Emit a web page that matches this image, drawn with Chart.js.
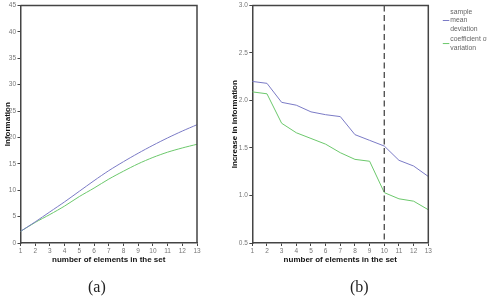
<!DOCTYPE html>
<html>
<head>
<meta charset="utf-8">
<script src="https://cdn.jsdelivr.net/npm/chart.js@4"></script>
<style>
  body { margin: 0; background: #fff; width: 487px; height: 299px; overflow: hidden; position: relative; }
  canvas { position: absolute; top: 0; }
  .cap { position: absolute; font-family: "Liberation Serif", "DejaVu Serif", serif; font-size: 16px; color: #222; }
</style>
</head>
<body>
<canvas id="chartA" width="240" height="299" style="left:0;width:240px;height:299px"></canvas>
<canvas id="chartB" width="259" height="299" style="left:228px;width:259px;height:299px"></canvas>
<div class="cap" style="left:88px;top:278px">(a)</div>
<div class="cap" style="left:350px;top:278px">(b)</div>
<script>
// x categories (number of elements in the set)
const setSizes = [1, 2, 3, 4, 5, 6, 7, 8, 9, 10, 11, 12, 13];

// (a) information
const infoMeanDev = [2.2, 4.0, 5.9, 7.8, 9.8, 11.8, 13.7, 15.4, 17.0, 18.5, 19.9, 21.2, 22.4];
const infoCoefVar = [2.2, 3.9, 5.4, 7.0, 8.8, 10.4, 12.1, 13.6, 15.0, 16.2, 17.2, 18.0, 18.7];

// (b) increase in information
const incMeanDev = [2.20, 2.18, 1.98, 1.95, 1.88, 1.85, 1.83, 1.64, 1.58, 1.52, 1.37, 1.31, 1.20];
const incCoefVar = [2.09, 2.07, 1.76, 1.66, 1.60, 1.54, 1.45, 1.38, 1.36, 1.03, 0.965, 0.94, 0.85];

const markerX = 10;

const blue = '#7b7bc6';
const green = '#6cc86c';
const axisCol = '#444';
const sans = '"Liberation Sans", Arial, sans-serif';

const pts = ys => ys.map((y, i) => ({ x: setSizes[i], y: y }));

// top + right border of the plot box, dashed marker, side legend
const boxPlugin = {
  id: 'box',
  afterDraw(chart, args, opts) {
    const { ctx, chartArea: a } = chart;
    ctx.save();
    ctx.strokeStyle = axisCol;
    ctx.lineWidth = 1.5;
    ctx.beginPath();
    ctx.moveTo(a.left, a.top);
    ctx.lineTo(a.right, a.top);
    ctx.lineTo(a.right, a.bottom);
    ctx.stroke();

    if (opts.marker) {
      const x = chart.scales.x.getPixelForValue(opts.marker);
      ctx.strokeStyle = '#555';
      ctx.lineWidth = 1.4;
      ctx.setLineDash([6, 3.5]);
      ctx.beginPath();
      ctx.moveTo(x, a.top);
      ctx.lineTo(x, a.bottom);
      ctx.stroke();
      ctx.setLineDash([]);
    }

    if (opts.legend) {
      ctx.font = '6.8px ' + sans;
      ctx.fillStyle = '#666';
      ctx.textBaseline = 'middle';
      let y = 12;
      chart.data.datasets.forEach(ds => {
        const lines = ds.label;
        const mid = y + (lines.length - 1) * 8.5 / 2;
        ctx.strokeStyle = ds.borderColor;
        ctx.lineWidth = 1;
        ctx.beginPath();
        ctx.moveTo(a.right + 14.5, mid);
        ctx.lineTo(a.right + 21, mid);
        ctx.stroke();
        lines.forEach((t, k) => ctx.fillText(t, a.right + 22, y + k * 8.5));
        y += lines.length * 8.5 + 1.8;
      });
    }
    ctx.restore();
  }
};

function makeChart(id, series, yOpts, yTitle, yWidth, yTitlePad, pad, extra) {
  return new Chart(document.getElementById(id), {
    type: 'line',
    data: {
      datasets: series.map(s => ({
        label: s.label,
        data: pts(s.data),
        borderColor: s.color,
        borderWidth: 1,
        pointRadius: 0,
        tension: s.tension || 0,
        fill: false
      }))
    },
    options: {
      responsive: false,
      animation: false,
      layout: { padding: pad },
      plugins: {
        legend: { display: false },
        tooltip: { enabled: false },
        box: extra
      },
      scales: {
        x: {
          type: 'linear',
          min: 1, max: 13,
          afterFit: s => { s.height = 27; },
          ticks: { stepSize: 1, padding: 1.5, color: '#777', font: { size: 6.5, family: sans } },
          grid: { drawOnChartArea: false, drawTicks: true, tickLength: 3, tickColor: axisCol },
          border: { display: true, color: axisCol, width: 1.5 },
          title: { display: true, text: 'number of elements in the set', color: '#111',
                   padding: { top: 0, bottom: 5 },
                   font: { size: 8, weight: 'bold', family: sans } }
        },
        y: Object.assign({
          afterFit: s => { s.width = yWidth; },
          grid: { drawOnChartArea: false, drawTicks: true, tickLength: 3, tickColor: axisCol },
          border: { display: true, color: axisCol, width: 1.5 },
          title: { display: true, text: yTitle, color: '#111',
                   padding: { top: yTitlePad, bottom: 0 },
                   font: { size: 8, weight: 'bold', family: sans } }
        }, yOpts)
      }
    },
    plugins: [boxPlugin]
  });
}

makeChart('chartA',
  [{ label: 'sample mean deviation', data: infoMeanDev, color: blue, tension: 0.3 },
   { label: 'coefficient of variation', data: infoCoefVar, color: green, tension: 0.3 }],
  { min: 0, max: 45, ticks: { stepSize: 5, padding: 1.5, color: '#777', font: { size: 6.5, family: sans } } },
  'Information', 20.5, 2.5,
  { top: 5, right: 43, bottom: 29, left: 0 },
  {});

makeChart('chartB',
  [{ label: ['sample', 'mean', 'deviation'], data: incMeanDev, color: blue },
   { label: ['coefficient of', 'variation'], data: incCoefVar, color: green }],
  { min: 0.5, max: 3.0, ticks: { stepSize: 0.5, padding: 1.5, color: '#777', callback: v => v.toFixed(1), font: { size: 6.5, family: sans } } },
  'Increase in information', 24.3, 1.6,
  { top: 4, right: 58.7, bottom: 29, left: 0 },
  { marker: markerX, legend: true });
</script>
</body>
</html>
